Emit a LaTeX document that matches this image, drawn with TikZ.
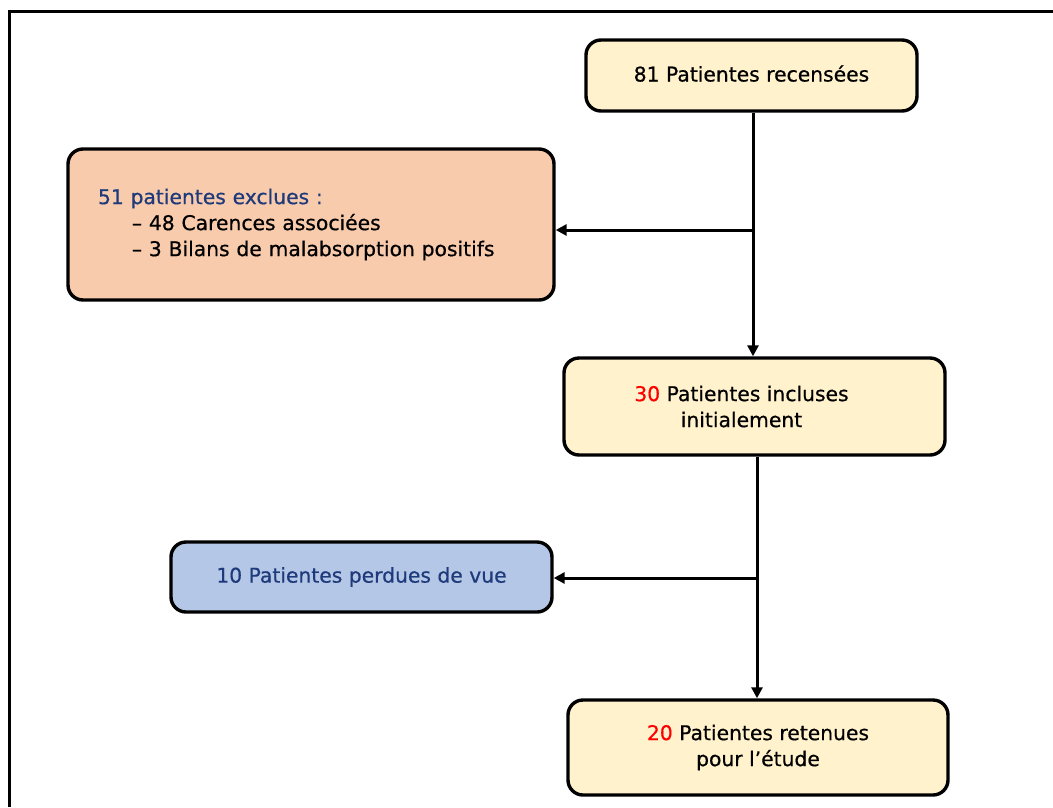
\documentclass[tikz,border=0pt]{standalone}
\usepackage{fontspec}
\setmainfont{DejaVu Sans}[FakeBold=0.6]
\usetikzlibrary{arrows.meta,positioning}

\definecolor{jaune}{HTML}{FFF2CC}
\definecolor{saumon}{HTML}{F8CBAD}
\definecolor{bleuclair}{HTML}{B4C7E7}
\definecolor{bleunuit}{HTML}{1F3A7A}

\tikzset{
  etape/.style={draw=black,line width=3.4pt,rounded corners=15pt,fill=jaune,
    font=\fontsize{20.3}{26}\selectfont,align=center},
  fleche/.style={line width=3pt,-{Triangle[length=11pt,width=11pt]}}
}

\begin{document}
\begin{tikzpicture}[x=1pt,y=-1pt]
  \useasboundingbox (0,0) rectangle (1053,807);
  \draw[line width=3pt] (9,807) -- (9,11) -- (1053,11);

  \node[etape,minimum width=331pt,minimum height=71pt] (recens) at (751.5,75.5)
        {81 Patientes recensées\vphantom{p}};
  \node[etape,fill=saumon,minimum width=486pt,minimum height=151pt,
        text width=426pt,align=left] (exclues) at (311,224.5)
        {\textcolor{bleunuit}{51 patientes exclues :}\\
         \hspace*{34pt}– 48 Carences associées\\
         \hspace*{34pt}– 3 Bilans de malabsorption positifs};
  \node[etape,minimum width=381pt,minimum height=97pt] (incluses) at (754.5,406.5)
        {\textcolor{red}{30} Patientes incluses\hspace*{26pt}\\initialement\hspace*{26pt}};
  \node[etape,fill=bleuclair,minimum width=381pt,minimum height=70pt] (perdues) at (361.5,577)
        {\textcolor{bleunuit}{10 Patientes perdues de vue}};
  \node[etape,minimum width=380pt,minimum height=95pt] (retenues) at (758,747.5)
        {\textcolor{red}{20} Patientes retenues\\pour l’étude};

  % flux principal
  \coordinate (haut1) at (753,0 |- recens.south);
  \coordinate (haut2) at (757,0 |- incluses.south);
  \draw[fleche] (haut1) -- (haut1 |- incluses.north);
  \draw[fleche] (haut2) -- (haut2 |- retenues.north);
  % sorties
  \coordinate (sortie1) at (753,230);
  \coordinate (sortie2) at (757,578);
  \draw[fleche] (sortie1) -- (exclues.east |- sortie1);
  \draw[fleche] (sortie2) -- (perdues.east |- sortie2);
\end{tikzpicture}
\end{document}
